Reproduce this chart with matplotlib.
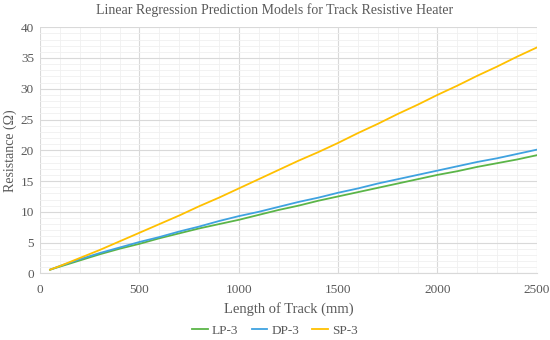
import matplotlib
matplotlib.use('Agg')
import matplotlib.pyplot as plt
from matplotlib.ticker import MultipleLocator

plt.rcParams['font.family'] = ['Liberation Serif', 'DejaVu Serif']
plt.rcParams['font.size'] = 9.5
plt.rcParams['text.color'] = '#595959'
plt.rcParams['axes.labelcolor'] = '#595959'
plt.rcParams['xtick.color'] = '#595959'
plt.rcParams['ytick.color'] = '#595959'

# track length (mm)
length = [50, 100, 200, 300, 400, 500, 600, 700, 800, 900, 1000, 1100, 1200,
          1300, 1400, 1500, 1600, 1700, 1800, 1900, 2000, 2100, 2200, 2300,
          2400, 2500]
lp3 = [0.6, 1.1, 2.1, 3.1, 4.0, 4.8, 5.7, 6.5, 7.3, 8.0, 8.7, 9.5, 10.3,
       11.0, 11.8, 12.5, 13.2, 13.9, 14.6, 15.3, 16.0, 16.6, 17.3, 17.9,
       18.5, 19.2]
dp3 = [0.6, 1.2, 2.3, 3.3, 4.2, 5.1, 5.9, 6.8, 7.6, 8.5, 9.3, 10.0, 10.8,
       11.6, 12.3, 13.1, 13.8, 14.6, 15.3, 16.0, 16.7, 17.4, 18.1, 18.7,
       19.4, 20.1]
sp3 = [0.6, 1.2, 2.5, 3.8, 5.2, 6.6, 8.0, 9.4, 10.9, 12.3, 13.8, 15.3, 16.8,
       18.3, 19.7, 21.2, 22.8, 24.3, 25.9, 27.4, 29.0, 30.5, 32.1, 33.6,
       35.2, 36.7]

fig = plt.figure(figsize=(5.5, 3.4), dpi=100, facecolor='w')
ax = fig.add_axes([0.073, 0.196, 0.903, 0.724])

ax.plot(length, lp3, color='#5BB548', lw=1.3, label='LP-3')
ax.plot(length, dp3, color='#3FA2E0', lw=1.3, label='DP-3')
ax.plot(length, sp3, color='#FFC000', lw=1.3, label='SP-3')

ax.set_xlim(0, 2500)
ax.set_ylim(0, 40)
ax.xaxis.set_major_locator(MultipleLocator(500))
ax.xaxis.set_minor_locator(MultipleLocator(100))
ax.yaxis.set_major_locator(MultipleLocator(5))
ax.yaxis.set_minor_locator(MultipleLocator(1))
ax.grid(which='major', color='#D9D9D9', lw=0.8)
ax.grid(which='minor', color='#F0F0F0', lw=0.6)
ax.set_axisbelow(True)
for s in ['top', 'right', 'left']:
    ax.spines[s].set_visible(False)
ax.spines['bottom'].set_color('#D9D9D9')
ax.tick_params(which='both', length=0)
ax.tick_params(axis='y', pad=4.5)
ax.tick_params(axis='x', pad=8)

fig.text(0.5, 0.97, 'Linear Regression Prediction Models for Track Resistive Heater',
         ha='center', va='center', fontsize=10)
ax.set_xlabel('Length of Track (mm)', fontsize=10.5, labelpad=4)
ax.set_ylabel('Resistance (Ω)', fontsize=10)
ax.yaxis.set_label_coords(-0.047, 0.5)

fig.legend(loc='center', bbox_to_anchor=(0.5, 0.028), ncol=3,
           frameon=False, handlelength=1.2, handletextpad=0.3,
           columnspacing=1.0, fontsize=9.5)

fig.savefig('out.png')
